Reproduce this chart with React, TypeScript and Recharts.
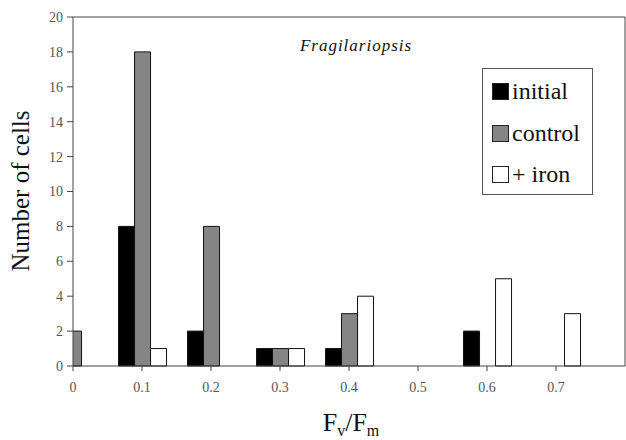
import { BarChart, Bar, XAxis, YAxis, Legend, Customized, ReferenceLine } from 'recharts';

const fvfm = [0, 0.1, 0.2, 0.3, 0.4, 0.5, 0.6, 0.7];
const initial = [0, 8, 2, 1, 1, 0, 2, 0];
const control = [2, 18, 8, 1, 3, 0, 0, 0];
const iron = [0, 1, 0, 1, 4, 0, 5, 3];
const yTicks = [0, 2, 4, 6, 8, 10, 12, 14, 16, 18, 20];

const SERIES = [
  { key: 'initial', label: 'initial', fill: '#000000' },
  { key: 'control', label: 'control', fill: '#858585' },
  { key: 'iron', label: '+ iron', fill: '#ffffff' },
];

const data = fvfm.map((x, i) => ({ x, initial: initial[i], control: control[i], iron: iron[i] }));

const FONT = "'Liberation Serif', 'Times New Roman', Times, serif";

function LegendBox() {
  return (
    <div
      style={{
        width: 111,
        height: 127,
        boxSizing: 'border-box',
        border: '1px solid #555',
        background: '#fff',
        fontFamily: FONT,
        fontSize: 24,
        color: '#111',
        padding: '2px 0 0 9px',
      }}
    >
      {SERIES.map(s => (
        <div key={s.key} style={{ display: 'flex', alignItems: 'center', height: 41.5 }}>
          <span
            style={{
              display: 'inline-block',
              width: 15,
              height: 15,
              background: s.fill,
              border: '1px solid #222',
              marginRight: 3,
            }}
          />
          <span>{s.label}</span>
        </div>
      ))}
    </div>
  );
}

function Labels() {
  return (
    <g style={{ fontFamily: FONT }} fill="#111">
      <text x={356} y={51} textAnchor="middle" fontSize={17} fontStyle="italic" letterSpacing={1}>
        Fragilariopsis
      </text>
      <text x={29} y={191} textAnchor="middle" fontSize={25} transform="rotate(-90 29 191)">
        Number of cells
      </text>
      <text x={351} y={431} textAnchor="middle" fontSize={26}>
        F<tspan fontSize={16} dy={5}>v</tspan>
        <tspan dy={-5}>/F</tspan>
        <tspan fontSize={16} dy={5}>m</tspan>
      </text>
    </g>
  );
}

const tickStyle = { fill: '#555', fontSize: 14, style: { fontFamily: FONT } };

export default function App() {
  return (
    <div style={{ position: 'absolute', left: 0, top: 0, background: '#fff', fontFamily: FONT }}>
      <BarChart
        width={626}
        height={440}
        data={data}
        margin={{ top: 17, right: 1, left: 0, bottom: 0 }}
        barCategoryGap="16%"
        barGap={0}
        style={{ fontFamily: FONT }}
      >
        <XAxis
          type="number"
          dataKey="x"
          domain={[0, 0.8]}
          allowDataOverflow
          ticks={fvfm}
          tickFormatter={(v: number) => String(v)}
          height={74}
          stroke="#444"
          tickSize={5}
          tickMargin={11}
          tick={tickStyle}
        />
        <YAxis
          domain={[0, 20]}
          ticks={yTicks}
          width={73}
          stroke="#444"
          tickSize={6}
          tickMargin={4}
          tick={tickStyle}
        />
        <ReferenceLine y={20} stroke="#444" ifOverflow="visible" />
        <ReferenceLine x={0.8} stroke="#444" ifOverflow="visible" />
        <Legend
          layout="vertical"
          align="center"
          verticalAlign="middle"
          wrapperStyle={{ position: 'absolute', left: 482, top: 68, width: 111, height: 127 }}
          content={() => <LegendBox />}
        />
        {SERIES.map(s => (
          <Bar
            key={s.key}
            dataKey={s.key}
            name={s.label}
            fill={s.fill}
            stroke="#111"
            strokeWidth={1}
            isAnimationActive={false}
          />
        ))}
        <Customized component={Labels} />
      </BarChart>
    </div>
  );
}
